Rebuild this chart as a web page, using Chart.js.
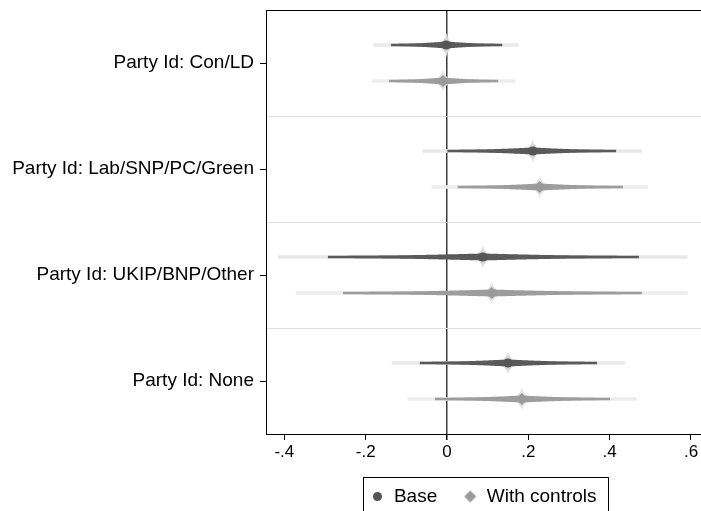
<!DOCTYPE html>
<html>
<head>
<meta charset="utf-8">
<script src="https://cdn.jsdelivr.net/npm/chart.js@4.4.1/dist/chart.umd.min.js"></script>
<style>
  html, body { margin: 0; padding: 0; background: #fff; }
  #wrap { width: 701px; height: 511px; }
</style>
</head>
<body>
<div id="wrap"><canvas id="coef-chart" width="701" height="511"></canvas></div>
<script>
// coefficient labels, top to bottom
const categories = ['Party Id: Con/LD', 'Party Id: Lab/SNP/PC/Green', 'Party Id: UKIP/BNP/Other', 'Party Id: None'];

// Base model: point estimate, 95% and 99% bounds
const baseEst  = [-0.002, 0.211, 0.088, 0.150];
const baseLo95 = [-0.137, 0.002, -0.292, -0.066];
const baseHi95 = [0.135, 0.415, 0.471, 0.368];
const baseLo99 = [-0.180, -0.059, -0.415, -0.135];
const baseHi99 = [0.175, 0.479, 0.591, 0.437];

// With controls
const ctrlEst  = [-0.010, 0.228, 0.110, 0.184];
const ctrlLo95 = [-0.142, 0.027, -0.255, -0.029];
const ctrlHi95 = [0.125, 0.432, 0.478, 0.400];
const ctrlLo99 = [-0.184, -0.037, -0.371, -0.096];
const ctrlHi99 = [0.167, 0.493, 0.591, 0.466];

const xTicks = [-0.4, -0.2, 0, 0.2, 0.4, 0.6];
const xTickLabels = ['-.4', '-.2', '0', '.2', '.4', '.6'];

const FONT = "'Liberation Sans', Arial, Helvetica, sans-serif";
const OFFSET = 0.17;   // vertical shift of each model inside its row
const T_MIN = 2;       // spindle thickness at the 95% ends
const T_MAX = 7;       // spindle thickness at the estimate

const series = [
  { label: 'Base', est: baseEst, lo95: baseLo95, hi95: baseHi95, lo99: baseLo99, hi99: baseHi99,
    shift: -OFFSET, dark: '#5a5a5a', light: '#e9e9e9', halo: ['#c4c4c4', '#f2f2f2'],
    marker: '#555555', style: 'circle', radius: 4.5 },
  { label: 'With controls', est: ctrlEst, lo95: ctrlLo95, hi95: ctrlHi95, lo99: ctrlLo99, hi99: ctrlHi99,
    shift: OFFSET, dark: '#9d9d9d', light: '#ededed', halo: ['#d0d0d0', '#f4f4f4'],
    marker: '#9a9a9a', style: 'rectRot', radius: 6 }
];

const yTickValues = categories.flatMap((c, i) => i ? [i + 0.5, i + 1] : [i + 1]);

function erf(x) {
  const t = 1 / (1 + 0.3275911 * x);
  return 1 - (((((1.061405429 * t - 1.453152027) * t) + 1.421413741) * t - 0.284496736) * t + 0.254829592) * t * Math.exp(-x * x);
}

function halfWidth(d) {
  const level = erf(1.96 * Math.min(d, 1) / Math.SQRT2);
  return (T_MIN + (T_MAX - T_MIN) * (1 - level / 0.95)) / 2;
}

function drawHalo(ctx, xe, yp, colors) {
  const g = ctx.createRadialGradient(xe, yp, 0, xe, yp, 13);
  g.addColorStop(0, colors[0]);
  g.addColorStop(1, colors[1]);
  ctx.fillStyle = g;
  ctx.beginPath();
  ctx.moveTo(xe, yp - 12);
  ctx.quadraticCurveTo(xe + 2, yp - 2, xe + 12, yp);
  ctx.quadraticCurveTo(xe + 2, yp + 2, xe, yp + 12);
  ctx.quadraticCurveTo(xe - 2, yp + 2, xe - 12, yp);
  ctx.quadraticCurveTo(xe - 2, yp - 2, xe, yp - 12);
  ctx.fill();
}

function drawSpindle(ctx, xl, xe, xh, yp, color) {
  const top = [], bottom = [];
  for (let px = xl; px <= xh; px += 1) {
    const d = px < xe ? (xe - px) / (xe - xl) : (px - xe) / (xh - xe);
    const h = halfWidth(d);
    top.push([px, yp - h]);
    bottom.push([px, yp + h]);
  }
  const hEnd = halfWidth(1);
  top.push([xh, yp - hEnd]);
  bottom.push([xh, yp + hEnd]);
  ctx.fillStyle = color;
  ctx.beginPath();
  top.forEach(([px, py], i) => i ? ctx.lineTo(px, py) : ctx.moveTo(px, py));
  for (let i = bottom.length - 1; i >= 0; i--) ctx.lineTo(bottom[i][0], bottom[i][1]);
  ctx.closePath();
  ctx.fill();
}

// smooth CI shape, drawn after the bars and before the markers
const smoothCi = {
  id: 'smoothCi',
  beforeDatasetDraw(chart, args) {
    if (args.index !== 1) return;
    const { ctx, chartArea, scales: { x, y } } = chart;
    ctx.save();
    ctx.beginPath();
    ctx.rect(chartArea.left, chartArea.top, chartArea.width, chartArea.height);
    ctx.clip();
    series.forEach(s => {
      s.est.forEach((v, i) => {
        const yp = y.getPixelForValue(i + 1 + s.shift);
        const xe = x.getPixelForValue(v);
        drawHalo(ctx, xe, yp, s.halo);
        drawSpindle(ctx, x.getPixelForValue(s.lo95[i]), xe, x.getPixelForValue(s.hi95[i]), yp, s.dark);
      });
    });
    ctx.restore();
  }
};

// top border of the plot region and the box round the legend
const frame = {
  id: 'frame',
  afterDraw(chart) {
    const { ctx, chartArea } = chart;
    ctx.save();
    ctx.strokeStyle = '#000';
    ctx.lineWidth = 1;
    ctx.beginPath();
    ctx.moveTo(chartArea.left, chartArea.top + 0.5);
    ctx.lineTo(chartArea.right, chartArea.top + 0.5);
    ctx.stroke();
    const lg = chart.legend;
    if (lg && lg.legendHitBoxes && lg.legendHitBoxes.length) {
      const boxes = lg.legendHitBoxes;
      const first = boxes[0], last = boxes[boxes.length - 1];
      const l = Math.round(first.left - 7) + 0.5;
      const r = Math.round(last.left + last.width + 11) + 0.5;
      const t = Math.round(lg.top + 16) + 0.5;
      ctx.strokeRect(l, t, r - l, 60);
    }
    ctx.restore();
  }
};

function makeIcon(style, color, r) {
  const size = Math.ceil(r * 2) + 2;
  const c = document.createElement('canvas');
  c.width = c.height = size;
  const g = c.getContext('2d');
  const m = size / 2;
  g.fillStyle = color;
  g.beginPath();
  if (style === 'circle') {
    g.arc(m, m, r, 0, Math.PI * 2);
  } else {
    g.moveTo(m, m - r); g.lineTo(m + r, m); g.lineTo(m, m + r); g.lineTo(m - r, m); g.closePath();
  }
  g.fill();
  return c;
}
const legendIcons = series.map(s => makeIcon(s.style, s.marker, s.radius));

const markerSets = series.map(s => ({
  type: 'scatter',
  label: s.label,
  data: s.est.map((v, i) => ({ x: v, y: i + 1 + s.shift })),
  pointStyle: s.style,
  pointRadius: s.radius,
  pointHoverRadius: s.radius,
  backgroundColor: s.marker,
  borderWidth: 0
}));

const barSet = (s, lo, hi, color, thickness) => ({
  type: 'bar',
  label: s.label,
  indexAxis: 'y',
  grouped: false,
  barThickness: thickness,
  data: lo.map((v, i) => ({ x: [v, hi[i]], y: i + 1 + s.shift })),
  backgroundColor: color,
  borderWidth: 0
});

const ci95Sets = series.map(s => barSet(s, s.lo95, s.hi95, s.dark, T_MIN));
const ci99Sets = series.map(s => barSet(s, s.lo99, s.hi99, s.light, 3));

new Chart(document.getElementById('coef-chart'), {
  type: 'bar',
  data: { datasets: [...markerSets, ...ci95Sets, ...ci99Sets] },
  options: {
    responsive: false,
    animation: false,
    events: [],
    layout: { autoPadding: false, padding: { top: 10, left: 0, right: 0, bottom: 0 } },
    scales: {
      x: {
        type: 'linear',
        offset: false,
        beginAtZero: false,
        min: -0.4451,
        max: 0.6246,
        afterBuildTicks: scale => { scale.ticks = xTicks.map(v => ({ value: v })); },
        afterFit: scale => { scale.height = 27; scale.paddingLeft = 0; scale.paddingRight = 0; },
        ticks: {
          callback: (v, i) => xTickLabels[i],
          color: '#000',
          font: { family: FONT, size: 17 },
          padding: 2,
          maxRotation: 0,
          autoSkip: false
        },
        grid: {
          offset: false,
          color: c => (c.tick && c.tick.value === 0 ? '#3c3c3c' : 'rgba(0,0,0,0)'),
          lineWidth: c => (c.tick && c.tick.value === 0 ? 1.5 : 1),
          tickColor: '#000',
          tickLength: 6
        },
        border: { color: '#000', width: 1 }
      },
      y: {
        type: 'linear',
        offset: false,
        reverse: true,
        min: 0.5,
        max: 4.5,
        afterBuildTicks: scale => { scale.ticks = yTickValues.map(v => ({ value: v })); },
        afterFit: scale => { scale.width = 266; scale.paddingTop = 0; scale.paddingBottom = 0; },
        ticks: {
          callback: v => (Number.isInteger(v) ? categories[v - 1] : ''),
          color: '#000',
          font: { family: FONT, size: 19 },
          padding: 6,
          autoSkip: false
        },
        grid: {
          offset: false,
          color: c => (c.tick && !Number.isInteger(c.tick.value) ? '#dedede' : 'rgba(0,0,0,0)'),
          tickColor: c => (c.tick && Number.isInteger(c.tick.value) ? '#000' : 'rgba(0,0,0,0)'),
          tickLength: 6,
          lineWidth: 1
        },
        border: { color: '#000', width: 1 }
      }
    },
    plugins: {
      tooltip: { enabled: false },
      legend: {
        position: 'bottom',
        fullSize: false,
        maxHeight: 50,
        labels: {
          usePointStyle: true,
          pointStyleWidth: 14,
          boxHeight: 19,
          padding: 26,
          color: '#000',
          font: { family: FONT, size: 19 },
          generateLabels: chart => Chart.defaults.plugins.legend.labels.generateLabels(chart)
            .map(item => (item.datasetIndex < 2 ? { ...item, pointStyle: legendIcons[item.datasetIndex] } : item)),
          filter: item => item.datasetIndex < 2
        }
      }
    }
  },
  plugins: [smoothCi, frame]
});
</script>
</body>
</html>
